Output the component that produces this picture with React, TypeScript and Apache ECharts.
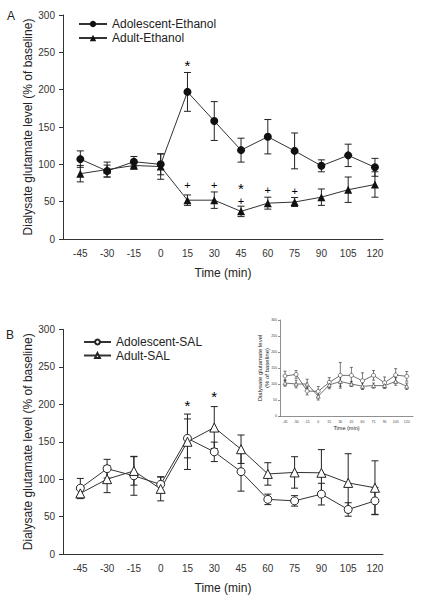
import React, { useEffect, useRef } from 'react';
import * as echarts from 'echarts';

const times = [-45, -30, -15, 0, 15, 30, 45, 60, 75, 90, 105, 120];

// Panel A
const adolEth = [107, 91, 103.5, 100, 197, 158, 119, 137, 118, 98, 112, 96];
const adolEthErr = [11, 8, 7, 14, 26, 26, 16, 23, 24, 8, 15, 12];
const adultEth = [87.5, 93, 98.5, 97, 52, 52, 37, 48, 49.5, 56, 66, 73];
const adultEthErr = [11, 10, 5, 17, 7, 11, 7, 8, 6, 11, 17, 17];
const annotAX = [15, 15, 30, 45, 45, 60, 75];
const annotAY = [237, 72, 72, 72, 50.5, 65.5, 64];
const annotAText = ['*', '+', '+', '*', '+', '+', '+'];

// Panel B
const adolSal = [88, 114, 104.5, 93, 154.5, 136.5, 110, 73, 71, 80, 59.5, 71];
const adolSalErr = [13, 12.5, 26, 10, 26, 13, 26, 7, 7, 14.5, 9, 18];
const adultSal = [81, 100, 111, 87, 150, 169, 140, 107, 109, 108.5, 95, 88.5];
const adultSalErr = [7, 18, 19, 16, 37, 28, 19, 15, 21, 31, 39, 36];
const annotBX = [15, 30];
const annotBY = [202, 214.5];
const annotBText = ['*', '*'];

// Inset
const insetA = [125, 130, 78, 77, 105, 127, 127, 110, 127, 104, 128, 124];
const insetAErr = [15, 12, 12, 15, 15, 40, 25, 25, 15, 18, 20, 15];
const insetB = [103, 100, 100, 62, 97, 108, 100, 93, 95, 95, 108, 93];
const insetBErr = [10, 12, 15, 12, 12, 15, 8, 10, 8, 6, 12, 10];

const FONT = '"Liberation Sans", Arial, sans-serif';
const INK = '#222';

const pts = (xs: number[], ys: number[]) => xs.map((x, i) => [x, ys[i]]);
const errPts = (xs: number[], ys: number[], es: number[]) => xs.map((x, i) => [x, ys[i], es[i]]);

function errSeries(data: number[][], axis: number, cap: number, lw: number) {
  return {
    type: 'custom',
    xAxisIndex: axis,
    yAxisIndex: axis,
    silent: true,
    clip: false,
    z: 2,
    encode: { x: 0, y: 1 },
    data,
    renderItem: (params: any, api: any) => {
      const x = api.value(0), y = api.value(1), e = api.value(2);
      const t = api.coord([x, y + e]);
      const b = api.coord([x, y - e]);
      const st = { stroke: INK, lineWidth: lw };
      const hw = cap / 2;
      return {
        type: 'group',
        children: [
          { type: 'line', shape: { x1: t[0], y1: t[1], x2: b[0], y2: b[1] }, style: st },
          { type: 'line', shape: { x1: t[0] - hw, y1: t[1], x2: t[0] + hw, y2: t[1] }, style: st },
          { type: 'line', shape: { x1: b[0] - hw, y1: b[1], x2: b[0] + hw, y2: b[1] }, style: st },
        ],
      };
    },
  };
}

function annotSeries(xs: number[], ys: number[], texts: string[], axis: number) {
  return {
    type: 'custom',
    xAxisIndex: axis,
    yAxisIndex: axis,
    silent: true,
    clip: false,
    z: 5,
    encode: { x: 0, y: 1 },
    data: xs.map((x, i) => [x, ys[i], i]),
    renderItem: (params: any, api: any) => {
      const p = api.coord([api.value(0), api.value(1)]);
      const txt = texts[api.value(2)];
      const star = txt === '*';
      return {
        type: 'text',
        x: p[0],
        y: p[1] + (star ? 3 : 0),
        style: {
          text: txt,
          fontSize: star ? 15 : 11,
          fontFamily: FONT,
          fill: '#000',
          align: 'center',
          verticalAlign: 'middle',
        },
      };
    },
  };
}

function xAxisMain(gridIndex: number) {
  return {
    type: 'value',
    gridIndex,
    min: -54.7,
    max: 124.5,
    name: 'Time (min)',
    nameLocation: 'middle',
    nameGap: 28,
    nameMoveOverlap: false,
    nameTextStyle: { fontSize: 12, fontFamily: FONT, color: INK },
    axisLine: { show: true, onZero: false, lineStyle: { color: '#333', width: 1 } },
    axisTick: { show: false },
    splitLine: { show: false },
    axisLabel: { customValues: times, fontSize: 10, fontFamily: FONT, color: '#333', margin: 9 },
  };
}

function yAxisMain(gridIndex: number) {
  return {
    type: 'value',
    gridIndex,
    min: 0,
    max: 300,
    interval: 50,
    name: 'Dialysate glutamate level (% of baseline)',
    nameLocation: 'middle',
    nameGap: 29,
    nameMoveOverlap: false,
    nameTextStyle: { fontSize: 12, fontFamily: FONT, color: INK },
    axisLine: { show: true, onZero: false, lineStyle: { color: '#333', width: 1 } },
    axisTick: { show: true, length: 4, lineStyle: { color: '#333' } },
    splitLine: { show: false },
    axisLabel: { fontSize: 10, fontFamily: FONT, color: '#333', margin: 8 },
  };
}

export default function App() {
  const ref = useRef<HTMLDivElement>(null);
  useEffect(() => {
    if (!ref.current) return;
    const chart = echarts.init(ref.current, null, { renderer: 'svg' });
    const option: any = {
      animation: false,
      backgroundColor: '#fff',
      textStyle: { fontFamily: FONT },
      grid: [
        { left: 63, top: 15, width: 320, height: 224 },
        { left: 63, top: 329.5, width: 320, height: 224.5 },
        { left: 280, top: 320, width: 133, height: 96 },
      ],
      xAxis: [
        xAxisMain(0),
        xAxisMain(1),
        {
          type: 'value',
          gridIndex: 2,
          min: -51.8,
          max: 128.5,
          name: 'Time (min)',
          nameLocation: 'middle',
          nameGap: 9,
          nameMoveOverlap: false,
          nameTextStyle: { fontSize: 5.5, fontFamily: FONT, color: INK },
          axisLine: { show: true, onZero: false, lineStyle: { color: '#444', width: 0.6 } },
          axisTick: { show: false },
          splitLine: { show: false },
          axisLabel: { customValues: times, fontSize: 3.5, fontFamily: FONT, color: '#444', margin: 4 },
        },
      ],
      yAxis: [
        yAxisMain(0),
        yAxisMain(1),
        {
          type: 'value',
          gridIndex: 2,
          min: 0,
          max: 300,
          interval: 50,
          name: 'Dialysate glutamate level\n(% of baseline)',
          nameLocation: 'middle',
          nameGap: 10,
          nameMoveOverlap: false,
          nameTextStyle: { fontSize: 6, lineHeight: 7, fontFamily: FONT, color: INK },
          axisLine: { show: true, onZero: false, lineStyle: { color: '#444', width: 0.6 } },
          axisTick: { show: true, length: 2, lineStyle: { color: '#444', width: 0.6 } },
          splitLine: { show: false },
          axisLabel: { fontSize: 3.5, fontFamily: FONT, color: '#444', margin: 3 },
        },
      ],
      legend: [
        {
          data: ['Adolescent-Ethanol', 'Adult-Ethanol'],
          orient: 'vertical',
          left: 78,
          top: 18,
          padding: 0,
          itemWidth: 28,
          itemHeight: 8,
          itemGap: 2,
          textStyle: { fontSize: 12, fontFamily: FONT, color: INK },
        },
        {
          data: ['Adolescent-SAL', 'Adult-SAL'],
          orient: 'vertical',
          left: 83,
          top: 336,
          padding: 0,
          itemWidth: 27,
          itemHeight: 6,
          itemGap: 1.5,
          textStyle: { fontSize: 12, fontFamily: FONT, color: INK },
        },
      ],
      graphic: [
        { type: 'text', left: 7, top: 10, style: { text: 'A', fontSize: 12, fontFamily: FONT, fill: INK } },
        { type: 'text', left: 6, top: 329, style: { text: 'B', fontSize: 12, fontFamily: FONT, fill: INK } },
      ],
      series: [
        errSeries(errPts(times, adolEth, adolEthErr), 0, 7, 1),
        errSeries(errPts(times, adultEth, adultEthErr), 0, 7, 1),
        {
          type: 'line', name: 'Adolescent-Ethanol', xAxisIndex: 0, yAxisIndex: 0,
          data: pts(times, adolEth), symbol: 'circle', symbolSize: 8, z: 3,
          itemStyle: { color: '#111' }, lineStyle: { color: '#333', width: 1 },
        },
        {
          type: 'line', name: 'Adult-Ethanol', xAxisIndex: 0, yAxisIndex: 0,
          data: pts(times, adultEth), symbol: 'triangle', symbolSize: 8, z: 3,
          itemStyle: { color: '#111' }, lineStyle: { color: '#333', width: 1 },
        },
        annotSeries(annotAX, annotAY, annotAText, 0),

        errSeries(errPts(times, adolSal, adolSalErr), 1, 7, 1),
        errSeries(errPts(times, adultSal, adultSalErr), 1, 7, 1),
        {
          type: 'line', name: 'Adolescent-SAL', xAxisIndex: 1, yAxisIndex: 1,
          data: pts(times, adolSal), symbol: 'circle', symbolSize: 8, z: 3,
          itemStyle: { color: '#fff', borderColor: '#222', borderWidth: 1 },
          lineStyle: { color: '#333', width: 1 },
        },
        {
          type: 'line', name: 'Adult-SAL', xAxisIndex: 1, yAxisIndex: 1,
          data: pts(times, adultSal), symbol: 'triangle', symbolSize: 9, z: 3,
          itemStyle: { color: '#fff', borderColor: '#222', borderWidth: 1 },
          lineStyle: { color: '#333', width: 1 },
        },
        annotSeries(annotBX, annotBY, annotBText, 1),

        errSeries(errPts(times, insetA, insetAErr), 2, 3, 0.6),
        errSeries(errPts(times, insetB, insetBErr), 2, 3, 0.6),
        {
          type: 'line', name: 'inset-adolescent', xAxisIndex: 2, yAxisIndex: 2,
          data: pts(times, insetA), symbol: 'circle', symbolSize: 4, z: 3,
          itemStyle: { color: '#fff', borderColor: '#333', borderWidth: 0.6 },
          lineStyle: { color: '#333', width: 0.7 },
        },
        {
          type: 'line', name: 'inset-adult', xAxisIndex: 2, yAxisIndex: 2,
          data: pts(times, insetB), symbol: 'triangle', symbolSize: 4, z: 3,
          itemStyle: { color: '#fff', borderColor: '#333', borderWidth: 0.6 },
          lineStyle: { color: '#333', width: 0.7 },
        },
      ],
    };
    chart.setOption(option);
    return () => chart.dispose();
  }, []);
  return (
    <div
      ref={ref}
      style={{ position: 'absolute', left: 0, top: 0, width: 426, height: 601, background: '#fff' }}
    />
  );
}
